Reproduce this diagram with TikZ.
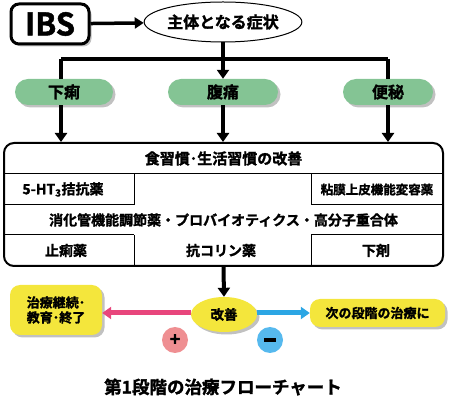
\documentclass[tikz,border=0pt]{standalone}
\usepackage{fontspec}
\setmainfont{Noto Sans CJK JP}[BoldFont={* Bold},BoldFeatures={FakeBold=1.6}]
\usetikzlibrary{arrows.meta,shapes.geometric,shadows}
\definecolor{pillgreen}{HTML}{84C494}
\definecolor{yel}{HTML}{F4E63C}
\definecolor{pinkarr}{HTML}{E8467C}
\definecolor{bluearr}{HTML}{2CA6E4}
\definecolor{pinkc}{HTML}{EF8F92}
\definecolor{bluec}{HTML}{56B9EE}
\tikzset{
  shad/.style={drop shadow={shadow xshift=2.5pt,shadow yshift=-2.5pt,fill=black!35,opacity=0.7}},
  pill/.style={draw=none,fill=pillgreen,rounded corners=13pt,minimum height=26pt,shad,font=\fontsize{16}{16}\selectfont\bfseries},
  bigarr/.style={line width=4pt,-{Triangle[length=9pt,width=12pt]}},
  bigline/.style={line width=4pt},
  cell/.style={font=\fontsize{14}{14}\selectfont\bfseries,inner sep=0pt},
  ybox/.style={fill=yel,shad,rounded corners=10pt,font=\fontsize{13}{15}\selectfont\bfseries,inner sep=0pt},
  colarr/.style={line width=5pt,-{Triangle[length=9pt,width=12pt]}},
  sign/.style={circle,minimum size=26pt,inner sep=0pt,font=\fontsize{18}{18}\selectfont\bfseries}
}
\begin{document}
\begin{tikzpicture}[x=1pt,y=-1pt]
\useasboundingbox (0,0) rectangle (474,411);
% top
\node[draw,line width=3pt,rounded corners=8pt,fill=white,shad,minimum width=78pt,minimum height=40pt,inner sep=0pt,font=\fontsize{31}{31}\selectfont\bfseries] (ibs) at (50,24) {IBS};
\node[draw,ellipse,line width=1pt,fill=white,minimum width=152pt,minimum height=40pt,inner sep=0pt,font=\fontsize{16}{16}\selectfont\bfseries] (sym) at (223,22) {主体となる症状};
\draw[line width=3.5pt,-{Triangle[length=9pt,width=11pt]}] (ibs) -- (sym);
% pills
\node[pill,minimum width=98pt] (p1) at (64,92) {下痢};
\node[pill,minimum width=110pt] (p2) at (223,92) {腹痛};
\node[pill,minimum width=90pt] (p3) at (388,92) {便秘};
\coordinate (bl) at (61,59);
\coordinate (br) at (388,59);
\draw[bigline] (bl) -- (br);
\draw[bigline] (sym.south) -- (sym.south |- bl);
\draw[bigarr] (sym.south |- bl) -- (p2.north);
\draw[bigline] (bl) -- (bl |- p1.north);
\draw[bigline] (br) -- (p3.north);
% big box
\node[draw,line width=2pt,rounded corners=10pt,minimum width=439pt,minimum height=123pt,inner sep=0pt] (box) at (223.5,204.5) {};
\draw[bigarr] (p1.south -| bl) -- (bl |- box.north);
\draw[bigarr] (p2.south) -- (p2.south |- box.north);
\draw[bigarr] (p3.south) -- (p3.south |- box.north);
\coordinate (r1) at (4,174);
\coordinate (r2) at (4,205);
\coordinate (r3) at (4,235);
\coordinate (c1) at (134,266);
\coordinate (c2) at (311,266);
\draw[line width=1pt] (r1) -- (r1 -| box.east);
\draw[line width=1pt] (r2) -- (r2 -| c1) (r2 -| c2) -- (r2 -| box.east);
\draw[line width=1pt] (r3) -- (r3 -| c1) (r3 -| c2) -- (r3 -| box.east);
\draw[line width=1pt] (c1 |- r1) -- (c1 |- r2) (c1 |- r3) -- (c1);
\draw[line width=1pt] (c2 |- r1) -- (c2 |- r2) (c2 |- r3) -- (c2);
\node[cell,font=\fontsize{15}{15}\selectfont\bfseries] (t1) at (223.5,158.5) {食習慣･生活習慣の改善};
\node[cell] (t2) at (63,189.5) {5-HT\textsubscript{3}拮抗薬};
\node[cell,font=\fontsize{12.5}{12.5}\selectfont\bfseries] (t3) at (377,189.5) {粘膜上皮機能変容薬};
\node[cell] (t4) at (223.5,220) {消化管機能調節薬・プロバイオティクス・高分子重合体};
\node[cell] (t5) at (66,250.5) {止痢薬};
\node[cell] (t6) at (221,250.5) {抗コリン薬};
\node[cell] (t7) at (376,250.5) {下剤};
% bottom
\node[ellipse,fill=yel,shad,minimum width=66pt,minimum height=35pt,inner sep=0pt,font=\fontsize{13.5}{13.5}\selectfont\bfseries] (kz) at (224,314.5) {改善};
\draw[bigarr] (box.south) -- (kz.north);
\node[ybox,minimum width=92pt,minimum height=50pt,align=center] (lb) at (56,310) {治療継続･\\教育･終了};
\node[ybox,minimum width=135pt,minimum height=28pt] (rb) at (377.5,313) {次の段階の治療に};
\draw[colarr,pinkarr] (kz.west |- 0,313) -- (lb.east |- 0,313);
\draw[colarr,bluearr] (kz.east |- 0,313) -- (rb.west |- 0,313);
\node[sign,fill=pinkc] (plus) at (175,340) {+};
\node[sign,fill=bluec] (minus) at (270,340) {};
\draw[line width=3.5pt] ([xshift=-6pt]minus.center) -- ([xshift=6pt]minus.center);
\node[font=\fontsize{17.5}{17.5}\selectfont\bfseries] (title) at (223,387) {第1段階の治療フローチャート};
\end{tikzpicture}
\end{document}
